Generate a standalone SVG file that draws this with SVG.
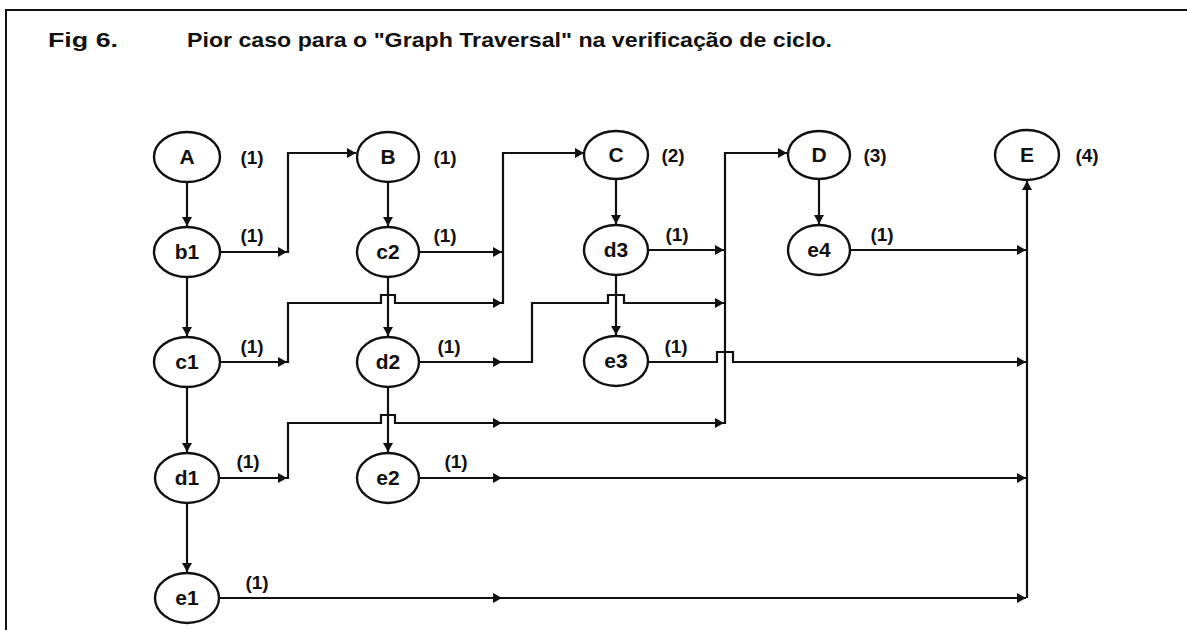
<svg xmlns="http://www.w3.org/2000/svg" width="1187" height="630" viewBox="0 0 1187 630">
<style>
.bg{fill:#fff}
.frame{fill:none;stroke:#111;stroke-width:2}
.node ellipse{fill:#fff;stroke:#111;stroke-width:2.4}
.nl{font-family:"Liberation Sans",Arial,sans-serif;font-size:21px;font-weight:bold;fill:#111;text-anchor:middle}
.lbl{font-family:"Liberation Sans",Arial,sans-serif;font-size:19px;font-weight:bold;fill:#111;text-anchor:middle}
.title{font-family:"Liberation Sans",Arial,sans-serif;font-size:21px;font-weight:bold;fill:#111}
.conn path{fill:none;stroke:#111;stroke-width:2.2}
.conn path.a{marker-end:url(#ah)}
</style>
<defs>
<marker id="ah" markerWidth="10" markerHeight="12" refX="9" refY="6" orient="auto" markerUnits="userSpaceOnUse">
<path d="M0,1 L9,6 L0,11 Z" fill="#111"/>
</marker>
</defs>
<rect class="bg" x="0" y="0" width="1187" height="630"/>
<path class="frame" d="M6,630 V10 H1187"/>
<text class="title" x="48" y="47" textLength="70" lengthAdjust="spacingAndGlyphs">Fig 6.</text>
<text class="title" x="187" y="47" textLength="645" lengthAdjust="spacingAndGlyphs">Pior caso para o "Graph Traversal" na verificação de ciclo.</text>

<g id="connectors" class="conn">
<path class="a" d="M187,182 V226"/>
<path class="a" d="M187,277 V336"/>
<path class="a" d="M187,387 V452"/>
<path class="a" d="M187,503 V572"/>
<path class="a" d="M388,182 V226"/>
<path class="a" d="M388,277 V336"/>
<path class="a" d="M388,387 V452"/>
<path class="a" d="M616,180 V224"/>
<path class="a" d="M616,275 V335"/>
<path class="a" d="M819,180 V224"/>
<path class="a" d="M1027,598 V181"/>
<path class="a" d="M219,252 H287"/>
<path class="a" d="M287,252 H288 V153 H356"/>
<path class="a" d="M219,362 H287"/>
<path class="a" d="M287,362 H288 V303 H381 V295 H395 V303 H502"/>
<path class="a" d="M502,303 H503 V153 H584"/>
<path class="a" d="M420,252 H502"/>
<path class="a" d="M420,362 H502"/>
<path class="a" d="M502,362 H532 V303 H608 V295 H624 V303 H724"/>
<path class="a" d="M724,303 H725 V153 H787"/>
<path d="M724,423 H725 V303"/>
<path class="a" d="M648,250 H724"/>
<path class="a" d="M219,478 H287"/>
<path class="a" d="M287,478 H288 V423 H381 V415 H395 V423 H502"/>
<path class="a" d="M502,423 H724"/>
<path class="a" d="M219,598 H502"/>
<path class="a" d="M502,598 H1026"/>
<path class="a" d="M420,478 H502"/>
<path class="a" d="M502,478 H1026"/>
<path class="a" d="M648,362 H717 V352 H733 V362 H1026"/>
<path class="a" d="M851,250 H1026"/>
</g>

<g id="node-A" class="node"><ellipse cx="187" cy="157" rx="33" ry="25"/><text class="nl" x="187" y="164">A</text></g>
<g id="node-B" class="node"><ellipse cx="388" cy="157" rx="31" ry="25"/><text class="nl" x="388" y="164">B</text></g>
<g id="node-C" class="node"><ellipse cx="616" cy="155" rx="32" ry="24"/><text class="nl" x="616" y="162">C</text></g>
<g id="node-D" class="node"><ellipse cx="819" cy="155" rx="31" ry="24"/><text class="nl" x="819" y="162">D</text></g>
<g id="node-E" class="node"><ellipse cx="1027" cy="155" rx="32" ry="25"/><text class="nl" x="1027" y="162">E</text></g>
<g id="node-b1" class="node"><ellipse cx="187" cy="252" rx="33" ry="25"/><text class="nl" x="187" y="259">b1</text></g>
<g id="node-c1" class="node"><ellipse cx="187" cy="362" rx="33" ry="25"/><text class="nl" x="187" y="369">c1</text></g>
<g id="node-d1" class="node"><ellipse cx="187" cy="478" rx="32" ry="25"/><text class="nl" x="187" y="485">d1</text></g>
<g id="node-e1" class="node"><ellipse cx="187" cy="598" rx="32" ry="25"/><text class="nl" x="187" y="605">e1</text></g>
<g id="node-c2" class="node"><ellipse cx="388" cy="252" rx="31" ry="25"/><text class="nl" x="388" y="259">c2</text></g>
<g id="node-d2" class="node"><ellipse cx="388" cy="362" rx="31" ry="25"/><text class="nl" x="388" y="369">d2</text></g>
<g id="node-e2" class="node"><ellipse cx="388" cy="478" rx="31" ry="25"/><text class="nl" x="388" y="485">e2</text></g>
<g id="node-d3" class="node"><ellipse cx="616" cy="250" rx="32" ry="25"/><text class="nl" x="616" y="257">d3</text></g>
<g id="node-e3" class="node"><ellipse cx="616" cy="361" rx="32" ry="25"/><text class="nl" x="616" y="368">e3</text></g>
<g id="node-e4" class="node"><ellipse cx="819" cy="250" rx="31" ry="25"/><text class="nl" x="819" y="257">e4</text></g>

<g id="labels">
<text class="lbl" x="252" y="164">(1)</text>
<text class="lbl" x="445" y="164">(1)</text>
<text class="lbl" x="673" y="162">(2)</text>
<text class="lbl" x="875" y="162">(3)</text>
<text class="lbl" x="1087" y="162">(4)</text>
<text class="lbl" x="252" y="242">(1)</text>
<text class="lbl" x="445" y="242">(1)</text>
<text class="lbl" x="677" y="241">(1)</text>
<text class="lbl" x="882" y="241">(1)</text>
<text class="lbl" x="252" y="353">(1)</text>
<text class="lbl" x="449" y="353">(1)</text>
<text class="lbl" x="676" y="353">(1)</text>
<text class="lbl" x="248" y="468">(1)</text>
<text class="lbl" x="456" y="468">(1)</text>
<text class="lbl" x="257" y="589">(1)</text>
</g>
</svg>
